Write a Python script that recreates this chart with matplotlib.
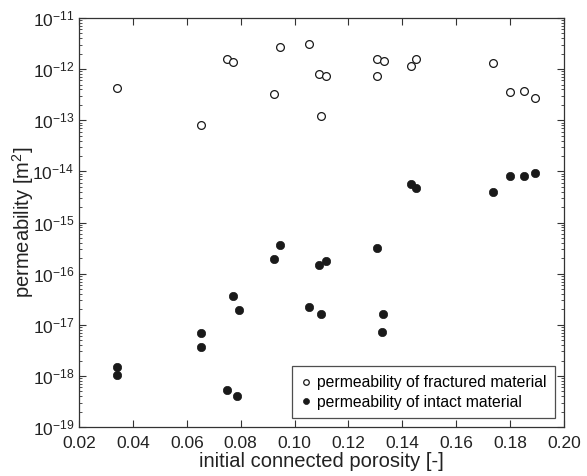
import matplotlib
matplotlib.use("Agg")
import matplotlib.pyplot as plt
from matplotlib.ticker import LogLocator, FixedLocator, NullFormatter

plt.rcParams['font.family'] = ['Liberation Sans', 'DejaVu Sans']
plt.rcParams['mathtext.fontset'] = 'custom'
plt.rcParams['mathtext.rm'] = 'Liberation Sans'
plt.rcParams['mathtext.it'] = 'Liberation Sans:italic'
plt.rcParams['mathtext.bf'] = 'Liberation Sans:bold'

# fractured material (open circles)
frac_x = [0.034, 0.0652, 0.0748, 0.077, 0.0922, 0.0947, 0.1052, 0.1091, 0.1115, 0.1098,
          0.1305, 0.1331, 0.1305, 0.1434, 0.1452, 0.1738, 0.180, 0.1853, 0.1893]
frac_k = [4.3e-13, 8.0e-14, 1.56e-12, 1.36e-12, 3.3e-13, 2.67e-12, 3.1e-12, 8.0e-13, 7.4e-13, 1.22e-13,
          1.56e-12, 1.46e-12, 7.3e-13, 1.17e-12, 1.6e-12, 1.3e-12, 3.6e-13, 3.7e-13, 2.76e-13]

# intact material (filled circles)
int_x = [0.0341, 0.0341, 0.0653, 0.0653, 0.0749, 0.077, 0.0786, 0.0793, 0.0922, 0.0947,
         0.1054, 0.1091, 0.1098, 0.1115, 0.1305, 0.1329, 0.1323, 0.1434, 0.1452, 0.1738,
         0.180, 0.1853, 0.1893]
int_k = [1.5e-18, 1.02e-18, 6.8e-18, 3.7e-18, 5.2e-19, 3.7e-17, 4.1e-19, 1.93e-17, 1.9e-16, 3.56e-16,
         2.2e-17, 1.5e-16, 1.59e-17, 1.76e-16, 3.15e-16, 1.6e-17, 7.1e-18, 5.7e-15, 4.65e-15, 4.0e-15,
         8.1e-15, 8.2e-15, 9.5e-15]

x_ticks = [0.02, 0.04, 0.06, 0.08, 0.10, 0.12, 0.14, 0.16, 0.18, 0.20]
x_ticklabels = ['0.02', '0.04', '0.06', '0.08', '0.10', '0.12', '0.14', '0.16', '0.18', '0.20']
y_exps = list(range(-19, -10))

fig = plt.figure(figsize=(5.87, 4.76), dpi=100)
ax = fig.add_axes([0.1346, 0.1029, 0.8262, 0.8593])

ax.plot(frac_x, frac_k, 'o', ms=5.6, mfc='white', mec='#1a1a1a', mew=0.9, ls='none',
        label='permeability of fractured material')
ax.plot(int_x, int_k, 'o', ms=6.0, mfc='#1a1a1a', mec='#1a1a1a', mew=0.5, ls='none',
        label='permeability of intact material')

ax.set_yscale('log')
ax.set_xlim(0.02, 0.20)
ax.set_ylim(1e-19, 1e-11)
ax.xaxis.set_major_locator(FixedLocator(x_ticks))
ax.set_xticklabels(x_ticklabels)
ax.yaxis.set_major_locator(FixedLocator([10.0 ** e for e in y_exps]))
ax.set_yticklabels([r'$\mathregular{10^{%d}}$' % e for e in y_exps])
ax.yaxis.set_minor_locator(LogLocator(base=10, subs=range(2, 10), numticks=100))
ax.yaxis.set_minor_formatter(NullFormatter())

ax.tick_params(which='both', direction='in', top=True, right=True, colors='#333333',
               labelcolor='#222222', labelsize=12.5)
ax.tick_params(axis='x', pad=6.5)
ax.tick_params(which='major', length=5, width=0.8)
ax.tick_params(which='minor', length=2.5, width=0.6)
for s in ax.spines.values():
    s.set_color('#333333')
    s.set_linewidth(0.9)

ax.set_xlabel('initial connected porosity [-]', fontsize=14.5, color='#222222', labelpad=1)
ax.set_ylabel(r'permeability [m$^\mathregular{2}$]', fontsize=14.5, color='#222222', labelpad=-2.5)

leg = ax.legend(loc='lower right', fontsize=11.3, frameon=True, fancybox=False,
                edgecolor='#222222', markerscale=0.72, handlelength=0.7, handletextpad=0.35,
                borderaxespad=0.55, borderpad=0.55, labelspacing=0.3)
leg.get_frame().set_linewidth(0.9)

fig.savefig('out.png', dpi=100)
